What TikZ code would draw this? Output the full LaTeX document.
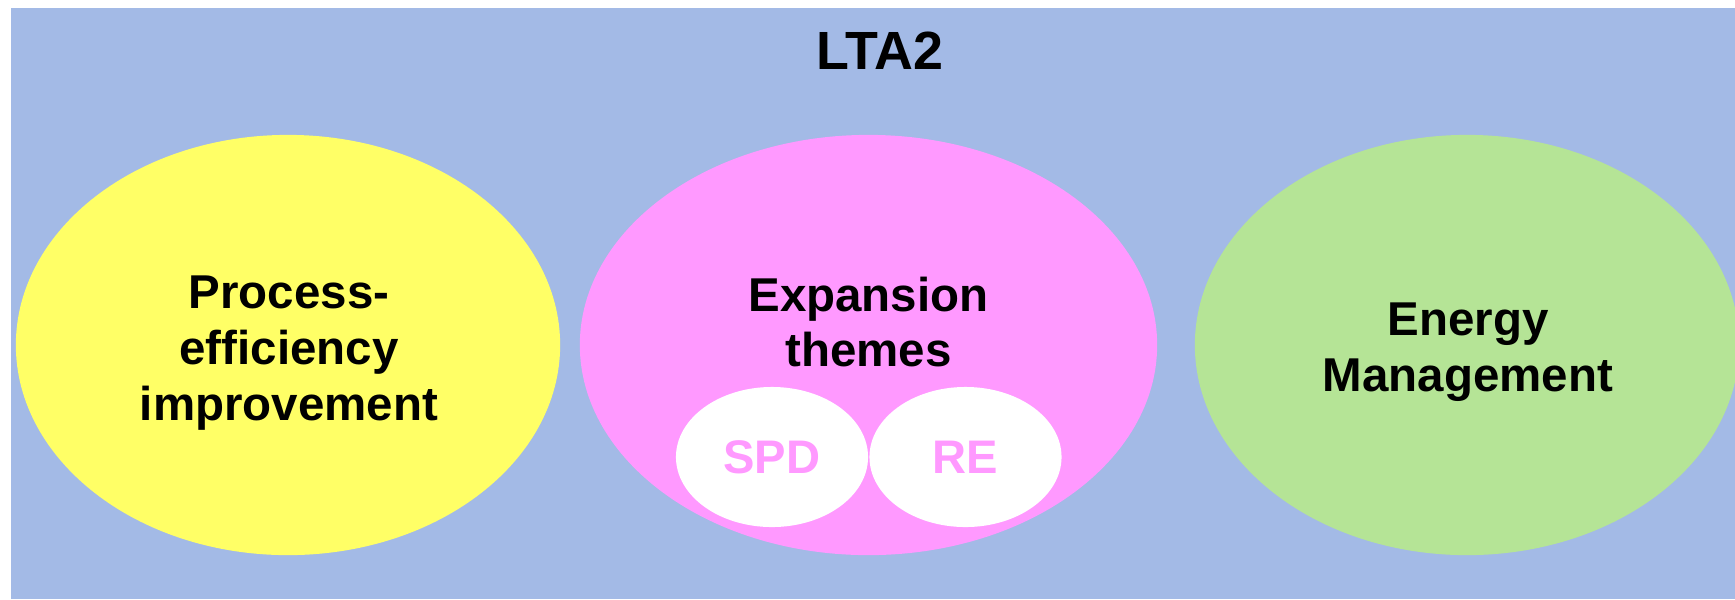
\documentclass[tikz,border=0pt]{standalone}
\usepackage{fontspec}
\setmainfont{Liberation Sans}
\usetikzlibrary{shapes.geometric}

\definecolor{ltablue}{HTML}{A3BAE6}
\definecolor{ltayellow}{HTML}{FFFF66}
\definecolor{ltapink}{HTML}{FF99FF}
\definecolor{ltagreen}{HTML}{B5E496}

\begin{document}
\begin{tikzpicture}[x=0.01cm, y=-0.01cm,
    blob/.style={ellipse, inner sep=0pt, minimum width=5.44cm, minimum height=4.2cm},
    subblob/.style={ellipse, inner sep=0pt, fill=white, text=ltapink,
      minimum width=1.92cm, minimum height=1.4cm,
      font=\fontsize{13.4}{15.9}\selectfont\bfseries},
    bigtext/.style={align=center, inner sep=0pt,
      font=\fontsize{13.5}{15.9}\selectfont\bfseries}]
    \useasboundingbox (0,0) rectangle (1735,599);

    % Background
    \fill[ltablue] (11,8) rectangle (1735,599);
    \node[inner sep=0pt, font=\fontsize{15.3}{17}\selectfont\bfseries] (title) at (880,51) {LTA2};

    % Process efficiency
    \node[blob, fill=ltayellow] (proc) at (288,345) {};
    \node[bigtext] (proctext) at (289,353) {Process-\\efficiency\\improvement};

    % Expansion themes
    \node[blob, fill=ltapink, minimum width=5.77cm] (expn) at (868.5,345) {};
    \node[bigtext] (expntext) at (868.5,322) {Expansion\\themes};
    \node[subblob] (spd) at (772,457) {SPD};
    \node[subblob] (re) at (965.5,457) {RE};

    % Energy management
    \node[blob, fill=ltagreen] (enrg) at (1467,345) {};
    \node[bigtext] (enrgtext) at (1468,352) {Energy\\Management};
\end{tikzpicture}
\end{document}
